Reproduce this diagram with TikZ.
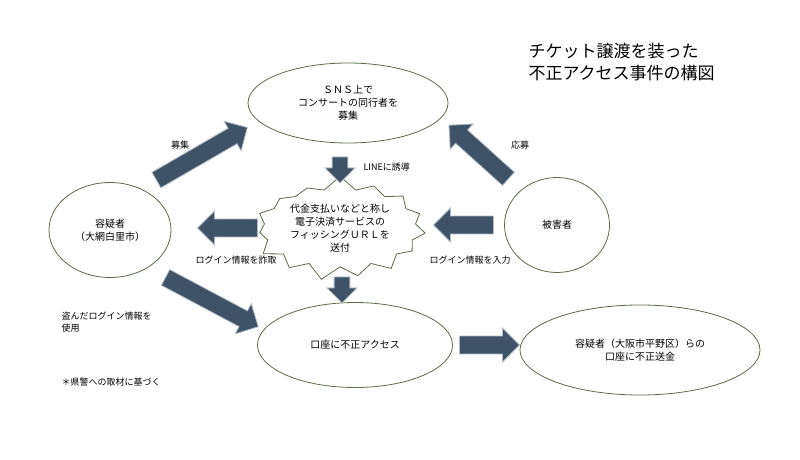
\documentclass[tikz,border=0pt]{standalone}
\usepackage{fontspec}
\setmainfont{Noto Sans CJK JP}
\usetikzlibrary{shapes.geometric,shapes.symbols,shapes.arrows}
\definecolor{arrowblue}{HTML}{3E5368}
\definecolor{ringgreen}{HTML}{5A6B45}
\tikzset{
  party/.style={draw=ringgreen, thick, ellipse, align=center, font=\fontsize{10}{13}\selectfont},
  fat/.style={single arrow, fill=arrowblue, draw=arrowblue!40, thick,
    minimum width=34pt, single arrow head extend=4pt, single arrow tip angle=90,
    inner sep=4pt},
  note/.style={font=\fontsize{9}{12}\selectfont, align=left}
}
\begin{document}
\begin{tikzpicture}[x=1pt,y=-1pt]
    \useasboundingbox (0,0) rectangle (800,460);
    \node[align=left, anchor=north west, font=\fontsize{17}{22}\selectfont] (title) at (525,40)
      {チケット譲渡を装った\\不正アクセス事件の構図};

    \node[party, minimum width=200pt, minimum height=80pt] (sns) at (348,103)
      {ＳＮＳ上で\\コンサートの同行者を\\募集};
    \node[party, minimum width=122pt, minimum height=95pt] (suspect) at (110,230)
      {容疑者\\（大網白里市）};
    \node[party, minimum width=105pt, minimum height=95pt] (victim) at (557,225) {被害者};
    \node[party, minimum width=195pt, minimum height=85pt] (account) at (355,345)
      {口座に不正アクセス};
    \node[party, minimum width=240pt, minimum height=90pt] (remit) at (640,350)
      {容疑者（大阪市平野区）らの\\口座に不正送金};
    \node[starburst, draw=ringgreen, thick, starburst points=15, starburst point height=14pt,
      random starburst=7, minimum width=180pt, minimum height=105pt, align=center,
      font=\fontsize{10}{13}\selectfont] (phish) at (340,228)
      {代金支払いなどと称し\\電子決済サービスの\\フィッシングＵＲＬを\\送付};

    % block arrows
    \node[fat, minimum height=105pt, rotate=30] (a1) at (198,156) {};
    \node[fat, minimum height=80pt, rotate=138] (a2) at (482,155) {};
    \node[fat, minimum height=26pt, minimum width=30pt, rotate=-90] (a3) at (340,166) {};
    \node[fat, minimum height=60pt, rotate=180] (a4) at (232,228) {};
    \node[fat, minimum height=60pt, rotate=180] (a5) at (468,225) {};
    \node[fat, minimum height=26pt, minimum width=30pt, rotate=-90] (a6) at (342,286) {};
    \node[fat, minimum height=105pt, rotate=-28] (a7) at (208,300) {};
    \node[fat, minimum height=60pt] (a8) at (485,345) {};

    \node[note] (l1) at (180,145) {募集};
    \node[note] (l2) at (520,145) {応募};
    \node[note, anchor=west] (l3) at (360,167) {LINEに誘導};
    \node[note] (l4) at (236,260) {ログイン情報を詐取};
    \node[note] (l5) at (470,260) {ログイン情報を入力};
    \node[note, anchor=west] (l6) at (58,322) {盗んだログイン情報を\\使用};
    \node[note, anchor=west] (l7) at (58,382) {＊県警への取材に基づく};
\end{tikzpicture}
\end{document}
